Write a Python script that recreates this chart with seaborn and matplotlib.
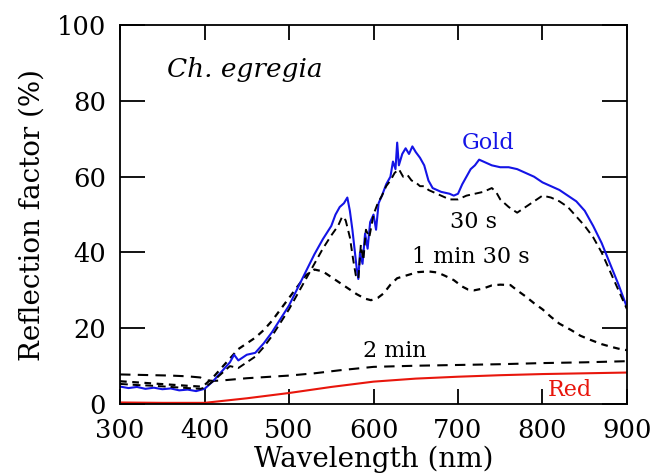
import numpy as np
import pandas as pd
import matplotlib
matplotlib.use("Agg")
import matplotlib.pyplot as plt
import seaborn as sns

# --- data (wavelength nm, reflection %) ---
gold_x = [300, 310, 320, 330, 340, 350, 360, 370, 380, 390, 400, 410, 420, 430, 435, 440,
          450, 460, 470, 480, 490, 500, 510, 520, 530, 540, 550, 555, 560, 565, 569, 572,
          575, 578, 580, 582, 584, 587, 590, 593, 596, 600, 603, 606, 610, 615, 620, 623,
          626, 628, 630, 634, 638, 642, 646, 650, 655, 660, 665, 670, 675, 680, 690, 695,
          700, 705, 710, 715, 720, 725, 730, 740, 750, 760, 770, 780, 790, 800, 810, 820,
          830, 840, 850, 860, 870, 880, 890, 900]
gold_y = [4.6, 4.2, 4.5, 4.0, 4.3, 3.9, 4.1, 3.6, 3.8, 3.4, 4.0, 6.0, 8.5, 11.0, 13.0, 11.5,
          13.0, 13.5, 16.0, 19.0, 22.5, 26.0, 30.5, 35.0, 39.5, 43.5, 47.0, 50.0, 52.0, 53.0, 54.5, 51.0,
          46.0, 40.0, 36.0, 33.0, 40.0, 37.0, 45.0, 41.0, 48.0, 50.0, 46.0, 53.0, 55.0, 58.0, 60.0, 64.0,
          62.0, 69.0, 63.0, 66.0, 67.5, 66.0, 68.0, 66.5, 65.0, 63.0, 59.0, 57.0, 56.5, 56.0, 55.5, 55.0,
          55.5, 58.0, 60.0, 62.0, 63.0, 64.5, 64.0, 63.0, 62.5, 62.5, 62.0, 61.0, 60.0, 58.5, 57.5, 56.5,
          55.0, 53.5, 51.0, 47.0, 42.5, 37.0, 31.5, 25.5]

s30_x = [300, 320, 340, 360, 380, 395, 400, 410, 420, 430, 440, 450, 460, 470, 480, 490,
         500, 510, 520, 530, 540, 550, 558, 563, 567, 572, 576, 579, 582, 585, 588, 591,
         595, 600, 605, 610, 615, 620, 625, 630, 635, 640, 645, 650, 655, 660, 665, 670,
         680, 690, 700, 710, 720, 730, 740, 745, 750, 755, 760, 770, 780, 790, 800, 810,
         820, 830, 840, 850, 860, 870, 880, 890, 900]
s30_y = [5.3, 5.0, 4.8, 4.5, 4.2, 4.0, 4.3, 6.0, 8.0, 10.0, 9.5, 11.0, 12.5, 15.0, 18.0, 21.5,
         25.0, 29.0, 33.0, 37.0, 41.0, 44.5, 47.0, 49.5, 48.5, 44.0, 38.0, 34.0, 33.0, 42.0, 38.0, 46.0,
         44.0, 50.0, 53.0, 55.0, 57.5, 59.0, 61.0, 62.0, 60.0, 60.5, 59.0, 58.5, 57.5, 57.5, 56.5, 56.0,
         55.0, 54.0, 54.0, 55.0, 55.5, 56.0, 57.0, 56.0, 54.0, 53.0, 52.0, 50.5, 52.0, 53.5, 55.0, 54.5,
         53.5, 52.0, 49.5, 47.0, 44.0, 40.0, 35.0, 30.0, 25.0]

m130_x = [300, 320, 340, 360, 380, 395, 400, 410, 420, 430, 440, 450, 460, 470, 480, 490,
          500, 510, 520, 530, 540, 550, 560, 570, 580, 590, 597, 605, 612, 620, 628, 640,
          652, 665, 676, 685, 695, 705, 712, 719, 730, 740, 750, 762, 770, 780, 790, 800,
          810, 820, 834, 845, 857, 870, 881, 890, 900]
m130_y = [6.0, 5.7, 5.4, 5.1, 4.8, 4.6, 5.0, 7.0, 9.5, 12.0, 14.5, 16.0, 17.5, 19.5, 22.0, 25.0,
          28.0, 31.0, 34.0, 35.5, 35.0, 33.5, 32.0, 30.5, 29.0, 27.8, 27.4, 28.0, 29.2, 31.5, 33.2, 34.0,
          34.8, 35.0, 34.7, 33.8, 32.7, 31.0, 30.2, 30.0, 30.5, 31.3, 31.5, 31.4, 30.0, 28.4, 26.6, 25.0,
          23.0, 21.2, 19.5, 18.0, 16.9, 15.8, 15.1, 14.6, 14.2]

m2_x = [300, 320, 340, 360, 380, 395, 400, 410, 420, 450, 500, 530, 560, 600, 650, 700, 750, 800, 850, 900]
m2_y = [7.8, 7.7, 7.6, 7.5, 7.3, 7.0, 6.3, 6.1, 6.2, 6.8, 7.5, 8.1, 8.9, 9.8, 10.1, 10.3, 10.5, 10.8, 11.0, 11.3]

red_x = [300, 350, 400, 450, 500, 550, 600, 650, 700, 750, 800, 850, 900]
red_y = [0.4, 0.3, 0.3, 1.5, 2.9, 4.5, 5.9, 6.7, 7.2, 7.6, 7.9, 8.1, 8.3]

x_ticks = [300, 400, 500, 600, 700, 800, 900]
y_ticks = [0, 20, 40, 60, 80, 100]

sns.set_theme(style="white")
plt.rcParams['font.family'] = ['DejaVu Serif']

fig = plt.figure(figsize=(6.67, 4.75), dpi=100)
ax = fig.add_axes([0.18, 0.1495, 0.76, 0.7975])

# curves
sns.lineplot(x=red_x, y=red_y, color='#e8160c', lw=1.5, ax=ax)
sns.lineplot(x=m2_x, y=m2_y, color='black', lw=1.5, ax=ax).lines[-1].set_dashes((5, 3.5))
sns.lineplot(x=m130_x, y=m130_y, color='black', lw=1.6, ax=ax).lines[-1].set_dashes((3, 2.5))
sns.lineplot(x=gold_x, y=gold_y, color='#1414e6', lw=1.5, ax=ax)
sns.lineplot(x=s30_x, y=s30_y, color='black', lw=1.4, ax=ax).lines[-1].set_dashes((4, 2.5))

ax.set_xlim(300, 900)
ax.set_ylim(0, 100)
ax.set_xticks(x_ticks)
ax.set_yticks(y_ticks)

for sp in ax.spines.values():
    sp.set_visible(True)
    sp.set_linewidth(1.3)
    sp.set_color('black')

ax.tick_params(axis='y', which='major', direction='in', length=18, width=1.3,
               left=True, right=True, labelsize=18.5, pad=10, colors='black')
ax.tick_params(axis='x', which='major', direction='in', length=11, width=1.3,
               bottom=True, top=True, labelsize=18.5, pad=10, colors='black')

ax.set_xlabel('Wavelength (nm)', fontsize=20, labelpad=2, color='black')
ax.set_ylabel('Reflection factor (%)', fontsize=20, labelpad=8, color='black')

# annotations
ax.text(356, 86.3, 'Ch. egregia', fontsize=19, style='italic', color='black')
ax.text(705, 67.3, 'Gold', fontsize=16, color='#1414e6')
ax.text(690, 46.4, '30 s', fontsize=16, color='black')
ax.text(646, 37.2, '1 min 30 s', fontsize=16, color='black')
ax.text(588, 12.5, '2 min', fontsize=16, color='black')
ax.text(806, 2.2, 'Red', fontsize=16, color='#e8160c')

fig.savefig('out.png', dpi=100)
